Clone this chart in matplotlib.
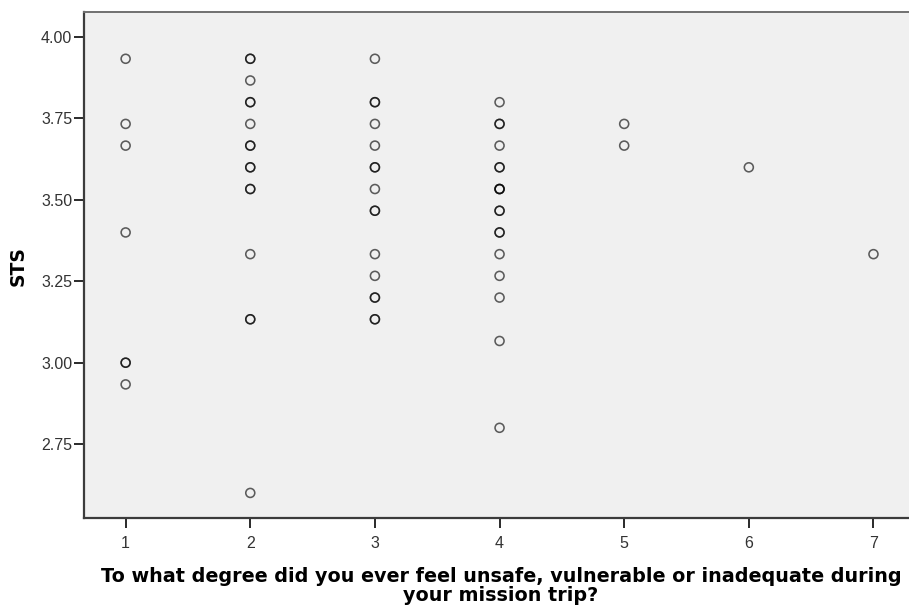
import matplotlib
matplotlib.use("Agg")
import matplotlib.pyplot as plt
import numpy as np

# STS score = sum of 15 items / 15, grouped by degree felt unsafe (1-7)
degree_levels = [1, 2, 3, 4, 5, 6, 7]
sts_sums_by_degree = [
    [59, 56, 55, 51, 45, 45, 44],
    [59, 59, 58, 57, 57, 56, 55, 55, 54, 54, 53, 53, 50, 47, 47, 39],
    [59, 57, 57, 56, 55, 54, 54, 53, 52, 52, 50, 49, 48, 48, 47, 47],
    [57, 56, 56, 55, 54, 54, 53, 53, 53, 52, 52, 51, 51, 50, 49, 48, 46, 42],
    [56, 55],
    [54],
    [50],
]
n_items = 15

y_ticks = [2.75, 3.00, 3.25, 3.50, 3.75, 4.00]
y_tick_labels = ["2.75", "3.00", "3.25", "3.50", "3.75", "4.00"]

degree = np.concatenate([[lvl] * len(s) for lvl, s in zip(degree_levels, sts_sums_by_degree)])
sts = np.concatenate([np.array(s) for s in sts_sums_by_degree]) / n_items

fig = plt.figure(figsize=(9.09, 6.13), dpi=100)
ax = fig.add_axes([84 / 909, (613 - 518) / 613, 1 - 84 / 909 + 0.01, (518 - 12) / 613])
ax.set_facecolor("#f0f0f0")

ax.scatter(degree, sts, s=42, facecolors="none", edgecolors="black",
           linewidths=1.15, alpha=0.62, zorder=3)

ax.set_xlim(0.666, 7.278 + 0.08)
ax.set_ylim(2.523, 4.077)
ax.set_xticks(degree_levels)
ax.set_xticklabels([str(v) for v in degree_levels])
ax.set_yticks(y_ticks)
ax.set_yticklabels(y_tick_labels)

for side in ("left", "bottom"):
    ax.spines[side].set_color("#3c3c3c")
    ax.spines[side].set_linewidth(1.6)
ax.spines["top"].set_color("#707070")
ax.spines["top"].set_linewidth(1.4)
ax.spines["right"].set_visible(False)

ax.tick_params(axis="both", direction="out", length=7, width=1.4, color="#2a2a2a",
               labelsize=11.5, labelcolor="#333333")
ax.tick_params(axis="x", pad=6)
ax.tick_params(axis="y", pad=1.5)
for lab in ax.get_xticklabels() + ax.get_yticklabels():
    lab.set_fontfamily("Liberation Sans")

ax.set_xlabel("To what degree did you ever feel unsafe, vulnerable or inadequate during\n"
              "your mission trip?", fontsize=13.8, fontweight="bold", fontfamily="DejaVu Sans",
              linespacing=1.02)
ax.set_ylabel("STS", fontsize=13.5, fontweight="bold", fontfamily="DejaVu Sans")
ax.xaxis.set_label_coords((501 - 84) / (909 - 84 + 9), -0.097)
ax.xaxis.label.set_verticalalignment("top")
ax.yaxis.set_label_coords(-0.068, (518 - 266) / (518 - 12))

fig.savefig("out.png", dpi=100)
